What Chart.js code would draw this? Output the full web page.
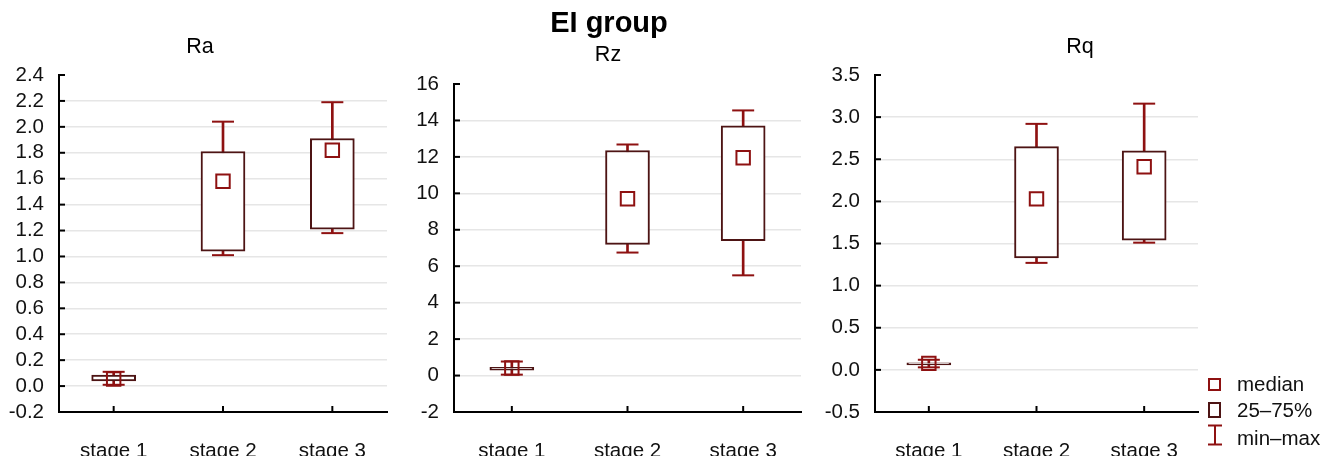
<!DOCTYPE html>
<html>
<head>
<meta charset="utf-8">
<script src="https://cdn.jsdelivr.net/npm/chart.js@4"></script>
<style>
  body { margin: 0; background: #fff; font-family: 'Liberation Sans', Arial, sans-serif; }
  #wrap { position: relative; width: 1340px; height: 456px; overflow: hidden; }
  .panel { position: absolute; top: 0; }
  .ttl { position: absolute; color: #000; white-space: nowrap; transform: translateX(-50%); }
  .main { font-size: 29px; line-height: 29px; font-weight: bold; }
  .sub { font-size: 21.5px; line-height: 21.5px; }
  .leg { position: absolute; left: 1237px; font-size: 20.5px; line-height: 20.5px; color: #111; white-space: nowrap; }
  .mk { position: absolute; box-sizing: border-box; background: #fff; }
</style>
</head>
<body>
<div id="wrap">
  <canvas id="ra" class="panel" style="left:0px" width="400" height="456"></canvas>
  <canvas id="rz" class="panel" style="left:400px" width="420" height="456"></canvas>
  <canvas id="rq" class="panel" style="left:820px" width="520" height="456"></canvas>

  <div class="ttl main" style="left:609px; top:8px">EI group</div>
  <div class="ttl sub" style="left:200px; top:36px">Ra</div>
  <div class="ttl sub" style="left:608px; top:44px">Rz</div>
  <div class="ttl sub" style="left:1080px; top:36px">Rq</div>

  <!-- legend -->
  <div class="mk" style="left:1208px; top:378px; width:13px; height:13px; border:2px solid #8e1111"></div>
  <div class="leg" style="top:374px">median</div>
  <div class="mk" style="left:1208px; top:402px; width:13px; height:16px; border:2px solid #4d1414"></div>
  <div class="leg" style="top:400px">25–75%</div>
  <svg style="position:absolute; left:1207px; top:424px" width="16" height="22">
    <line x1="1" y1="1.5" x2="15" y2="1.5" stroke="#8e1111" stroke-width="2"/>
    <line x1="8" y1="1" x2="8" y2="21" stroke="#8e1111" stroke-width="2"/>
    <line x1="1" y1="20.5" x2="15" y2="20.5" stroke="#8e1111" stroke-width="2"/>
  </svg>
  <div class="leg" style="top:428px">min–max</div>
</div>

<script>
// ---- data ----
const stages = ['stage 1', 'stage 2', 'stage 3'];

// Ra
const raMin = [0.01, 1.01, 1.18];
const raQ1  = [0.04, 1.04, 1.21];
const raMed = [0.055, 1.58, 1.82];
const raQ3  = [0.085, 1.81, 1.91];
const raMax = [0.11, 2.04, 2.19];

// Rz
const rzMin = [0.05, 6.75, 5.5];
const rzQ1  = [0.3, 7.2, 7.4];
const rzMed = [0.41, 9.7, 11.95];
const rzQ3  = [0.45, 12.35, 13.7];
const rzMax = [0.77, 12.68, 14.55];

// Rq
const rqMin = [0.03, 1.27, 1.51];
const rqQ1  = [0.06, 1.33, 1.54];
const rqMed = [0.077, 2.03, 2.41];
const rqQ3  = [0.085, 2.65, 2.6];
const rqMax = [0.12, 2.92, 3.16];

// ---- styles ----
const WHISKER = '#8e1111';
const BOX = '#4d1414';
const GRID = '#e6e6e6';
const TICK_FONT = { size: 20.5 };

Chart.defaults.font.family = "'Liberation Sans', Arial, sans-serif";
Chart.defaults.color = '#111';

// inward tick marks on both axes
const innerTicks = {
    id: 'innerTicks',
    afterDraw(chart) {
        const { ctx, chartArea, scales } = chart;
        ctx.save();
        ctx.strokeStyle = '#000';
        ctx.lineWidth = 2;
        scales.y.ticks.forEach((t, i) => {
            const y = scales.y.getPixelForTick(i);
            ctx.beginPath();
            ctx.moveTo(chartArea.left, y);
            ctx.lineTo(chartArea.left + 6, y);
            ctx.stroke();
        });
        scales.x.ticks.forEach((t, i) => {
            const x = scales.x.getPixelForTick(i);
            ctx.beginPath();
            ctx.moveTo(x, chartArea.bottom);
            ctx.lineTo(x, chartArea.bottom - 6);
            ctx.stroke();
        });
        ctx.restore();
    }
};

function boxPanel(id, mins, q1s, meds, q3s, maxs, yMin, yMax, step, fmt, geo) {
    const whiskers = mins.map((v, i) => [v, maxs[i]]);
    const boxes = q1s.map((v, i) => [v, q3s[i]]);

    new Chart(document.getElementById(id), {
        type: 'bar',
        data: {
            labels: stages,
            datasets: [
                { data: whiskers, backgroundColor: WHISKER, barThickness: 2, grouped: false, order: 5 },
                { type: 'line', data: mins, showLine: false, pointStyle: 'line', pointRadius: 11,
                  pointBorderColor: WHISKER, pointBorderWidth: 2, order: 4 },
                { type: 'line', data: maxs, showLine: false, pointStyle: 'line', pointRadius: 11,
                  pointBorderColor: WHISKER, pointBorderWidth: 2, order: 4 },
                { data: boxes, backgroundColor: '#fff', borderColor: BOX, borderWidth: 2,
                  borderSkipped: false, barThickness: 44, grouped: false, order: 3 },
                { type: 'line', data: meds, showLine: false, pointStyle: 'rect', pointRadius: 9.5,
                  pointBackgroundColor: 'rgba(255,255,255,0)', pointBorderColor: WHISKER,
                  pointBorderWidth: 2, order: 1 }
            ]
        },
        options: {
            responsive: false,
            animation: false,
            events: [],
            layout: { padding: { left: 0, top: geo.top, right: geo.right, bottom: 0 } },
            plugins: { legend: { display: false }, tooltip: { enabled: false } },
            scales: {
                x: {
                    grid: { display: false },
                    border: { color: '#000', width: 2 },
                    ticks: { font: TICK_FONT, padding: 19, color: '#111' },
                    afterFit: s => { s.height = 456 - 412; }
                },
                y: {
                    min: yMin,
                    max: yMax,
                    grid: {
                        drawTicks: false,
                        lineWidth: 1.5,
                        color: c => (c.tick && c.tick.value > yMax - step / 2) ? 'rgba(0,0,0,0)' : GRID
                    },
                    border: { color: '#000', width: 2 },
                    ticks: { stepSize: step, autoSkip: false, font: TICK_FONT, padding: 15,
                             color: '#111', callback: fmt },
                    afterFit: s => { s.width = geo.left; }
                }
            }
        },
        plugins: [innerTicks]
    });
}

boxPanel('ra', raMin, raQ1, raMed, raQ3, raMax, -0.2, 2.4, 0.2, v => v.toFixed(1),
    { left: 59, right: 7, top: 75 });
boxPanel('rz', rzMin, rzQ1, rzMed, rzQ3, rzMax, -2, 16, 2, v => Math.round(v),
    { left: 54, right: 19, top: 84 });
boxPanel('rq', rqMin, rqQ1, rqMed, rqQ3, rqMax, -0.5, 3.5, 0.5, v => v.toFixed(1),
    { left: 55, right: 142, top: 75 });
</script>
</body>
</html>
